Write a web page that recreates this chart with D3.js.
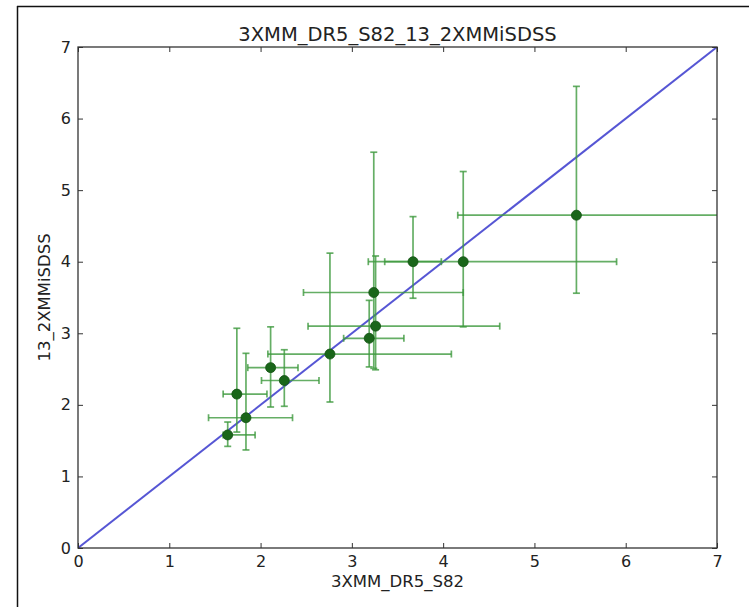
<!DOCTYPE html>
<html>
<head>
<meta charset="utf-8">
<script src="https://cdn.jsdelivr.net/npm/d3@7"></script>
<style>
  html, body { margin: 0; padding: 0; background: #fff; }
  svg { display: block; font-family: "DejaVu Sans", sans-serif; }
</style>
</head>
<body>
<svg id="chart" width="749" height="607"></svg>
<script>
// Source comparison: 3XMM_DR5_S82 vs 13_2XMMiSDSS
const xVals = [1.64, 1.84, 1.74, 2.11, 2.26, 2.76, 3.19, 3.26, 3.24, 3.67, 4.22, 5.46];
const yVals = [1.58, 1.82, 2.15, 2.52, 2.34, 2.71, 2.93, 3.10, 3.57, 4.00, 4.00, 4.65];
const xLow  = [1.59, 1.43, 1.59, 1.86, 2.01, 2.08, 2.91, 2.52, 2.47, 3.36, 3.18, 4.16];
const xHigh = [1.94, 2.35, 2.07, 2.41, 2.64, 4.09, 3.57, 4.62, 4.22, 3.98, 5.90, 7.60];
const yLow  = [1.42, 1.37, 1.62, 1.97, 1.98, 2.04, 2.53, 2.49, 2.51, 3.49, 3.09, 3.56];
const yHigh = [1.76, 2.72, 3.07, 3.09, 2.77, 4.12, 3.46, 4.08, 5.53, 4.63, 5.26, 6.45];
const xTicks = [0, 1, 2, 3, 4, 5, 6, 7];
const yTicks = [0, 1, 2, 3, 4, 5, 6, 7];
const identity = [0, 7];

(function () {
const svg = d3.select("#chart");
const W = 749, H = 607;
const mLeft = 78, mRight = 717, mTop = 47, mBottom = 548;

svg.append("rect").attr("width", W).attr("height", H).attr("fill", "#fff");
// outer frame (top and left edges)
svg.append("line").attr("x1", 17).attr("x2", W).attr("y1", 6.5).attr("y2", 6.5)
  .attr("stroke", "#111").attr("stroke-width", 1.5);
svg.append("line").attr("x1", 17.5).attr("x2", 17.5).attr("y1", 6).attr("y2", H)
  .attr("stroke", "#111").attr("stroke-width", 1.5);

const x = d3.scaleLinear().domain([0, 7]).range([mLeft, mRight]);
const y = d3.scaleLinear().domain([0, 7]).range([mBottom, mTop]);

const defs = svg.append("defs");
defs.append("clipPath").attr("id", "plotclip").append("rect")
  .attr("x", mLeft).attr("y", mTop).attr("width", mRight - mLeft).attr("height", mBottom - mTop);

const pts = xVals.map((v, i) => ({x: v, y: yVals[i], xl: xLow[i], xh: xHigh[i], yl: yLow[i], yh: yHigh[i]}));

const plot = svg.append("g").attr("clip-path", "url(#plotclip)");

// 1:1 reference line
plot.append("line")
  .attr("x1", x(identity[0])).attr("y1", y(identity[0]))
  .attr("x2", x(identity[1])).attr("y2", y(identity[1]))
  .attr("stroke", "#5656d4").attr("stroke-width", 2);

const barColor = "#3f9a3f", cap = 3.5;
const eb = plot.append("g").attr("stroke", barColor).attr("stroke-width", 1.7).attr("stroke-opacity", 0.8);
pts.forEach(p => {
  eb.append("line").attr("x1", x(p.xl)).attr("x2", x(p.xh)).attr("y1", y(p.y)).attr("y2", y(p.y));
  eb.append("line").attr("x1", x(p.x)).attr("x2", x(p.x)).attr("y1", y(p.yl)).attr("y2", y(p.yh));
  [p.xl, p.xh].forEach(v => eb.append("line").attr("x1", x(v)).attr("x2", x(v))
    .attr("y1", y(p.y) - cap).attr("y2", y(p.y) + cap));
  [p.yl, p.yh].forEach(v => eb.append("line").attr("x1", x(p.x) - cap).attr("x2", x(p.x) + cap)
    .attr("y1", y(v)).attr("y2", y(v)));
});

plot.append("g").selectAll("circle").data(pts).join("circle")
  .attr("cx", d => x(d.x)).attr("cy", d => y(d.y)).attr("r", 5)
  .attr("fill", "#1a661a").attr("stroke", "#135213").attr("stroke-width", 0.8);

// axes frame with inward ticks on all sides
const axisColor = "#333";
const tl = 5;
const ax = svg.append("g");
ax.append("g").attr("transform", `translate(0,${mBottom})`)
  .call(d3.axisBottom(x).tickValues(xTicks).tickSize(-tl).tickPadding(8).tickFormat(d3.format("d")));
ax.append("g").attr("transform", `translate(0,${mTop})`)
  .call(d3.axisTop(x).tickValues(xTicks).tickSize(-tl).tickFormat(""));
ax.append("g").attr("transform", `translate(${mLeft},0)`)
  .call(d3.axisLeft(y).tickValues(yTicks).tickSize(-tl).tickPadding(7).tickFormat(d3.format("d")));
ax.append("g").attr("transform", `translate(${mRight},0)`)
  .call(d3.axisRight(y).tickValues(yTicks).tickSize(-tl).tickFormat(""));
ax.selectAll(".domain").remove();
ax.selectAll(".tick line").attr("stroke", axisColor).attr("stroke-width", 1);
ax.selectAll("text").attr("font-size", 16).attr("fill", "#222").attr("font-family", "DejaVu Sans, sans-serif");
ax.append("rect").attr("x", mLeft).attr("y", mTop).attr("width", mRight - mLeft).attr("height", mBottom - mTop)
  .attr("fill", "none").attr("stroke", axisColor).attr("stroke-width", 1.3);

svg.append("text").attr("x", (mLeft + mRight) / 2).attr("y", 41).attr("text-anchor", "middle")
  .attr("font-size", 19.5).attr("fill", "#222").text("3XMM_DR5_S82_13_2XMMiSDSS");
svg.append("text").attr("x", (mLeft + mRight) / 2).attr("y", 587).attr("text-anchor", "middle")
  .attr("font-size", 16.5).attr("fill", "#222").text("3XMM_DR5_S82");
svg.append("text").attr("transform", `translate(50,${(mTop + mBottom) / 2}) rotate(-90)`)
  .attr("text-anchor", "middle").attr("font-size", 16.5).attr("fill", "#222").text("13_2XMMiSDSS");
})();
</script>
</body>
</html>
